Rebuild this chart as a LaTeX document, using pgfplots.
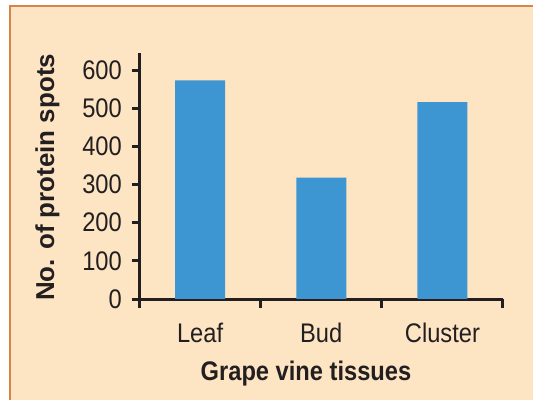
\documentclass[border=0pt]{standalone}
\usepackage{fontspec}
\setmainfont{Liberation Sans}
\usepackage{pgfplots}
\pgfplotsset{compat=1.18}
\definecolor{bgcol}{HTML}{FDE5C4}
\definecolor{framecol}{HTML}{D4864A}
\definecolor{barcol}{HTML}{3D95D2}
\definecolor{inkcol}{HTML}{231F20}
\begin{document}
\begin{tikzpicture}
% page = 533x400 px, 1 px = 0.5 bp
\useasboundingbox (0,0) rectangle (266.5bp,200bp);
\fill[white] (0,0) rectangle (266.5bp,200bp);
\fill[bgcol] (5bp,0) rectangle (266.5bp,197bp);
\draw[framecol, line width=0.7bp] (5bp,0) -- (5bp,197bp) -- (266.5bp,197bp);
\begin{axis}[
    at={(69.75bp,50.5bp)}, anchor=south west,
    scale only axis,
    width=181.75bp, height=123bp,
    xmin=-0.5, xmax=2.5,
    ymin=0, ymax=645,
    axis x line=bottom, axis y line=left,
    axis line style={-, line width=1.5bp, inkcol},
    every tick/.style={line width=1.5bp, inkcol},
    tick align=outside,
    xtick={0,1,2},
    xticklabels={Leaf, Bud, Cluster},
    minor xtick={-0.5,0.5,1.5,2.5},
    major x tick style={draw=none},
    minor tick length=4.5bp,
    ytick={0,100,...,600},
    major tick length=4bp,
    ticklabel style={font=\fontsize{13.5}{15}\selectfont, text=inkcol, xscale=0.88},
    /pgf/number format/assume math mode=true,
    xticklabel style={yshift=-4.5bp},
    yticklabel style={xshift=-2bp},
    xlabel={\textbf{Grape vine tissues}},
    ylabel={\textbf{No. of protein spots}},
    xlabel style={font=\fontsize{13.5}{15}\selectfont, text=inkcol, xscale=0.88,
        at={(axis description cs:0.458,-0.33)}, anchor=base},
    ylabel style={font=\fontsize{13}{15}\selectfont, text=inkcol,
        at={(axis description cs:-0.253,0.494)}, anchor=center},
    ybar, bar width=25bp,
]
\addplot[fill=barcol, draw=none] coordinates {(0,573) (1,318) (2,516)};
\end{axis}
\end{tikzpicture}
\end{document}
